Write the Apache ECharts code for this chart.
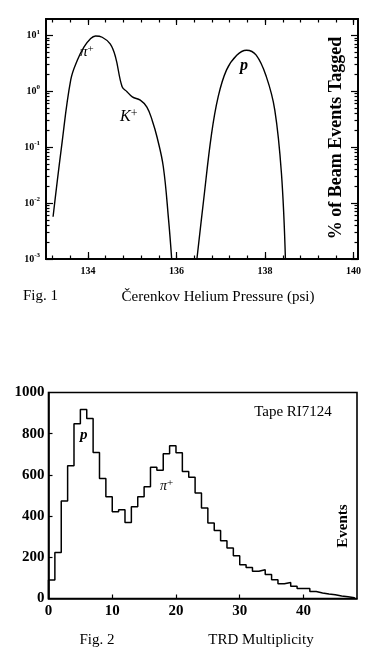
<!DOCTYPE html>
<html>
<head>
<meta charset="utf-8">
<script src="https://cdn.jsdelivr.net/npm/echarts@6/dist/echarts.min.js"></script>
<style>
  html, body { margin: 0; padding: 0; background: #fff; }
  #chart { width: 390px; height: 664px; }
</style>
</head>
<body>
<div id="chart"></div>
<script>
// Fig. 1 - Cerenkov pressure scan (% of beam events tagged, log scale)
const piKPressure = [133.21, 133.40, 133.61, 133.76, 133.91, 134.05, 134.17, 134.32, 134.50, 134.62, 134.77, 134.88, 135.00, 135.18, 135.33, 135.45, 135.56, 135.70, 135.82, 135.89]
const piKPercent = [0.0057, 0.10, 1.6, 3.6, 6.2, 8.6, 9.7, 9.2, 7.0, 4.1, 1.2, 0.98, 0.79, 0.69, 0.52, 0.30, 0.15, 0.045, 0.005, 0.001]
const protonPressure = [136.46, 136.61, 136.79, 136.94, 137.13, 137.36, 137.58, 137.80, 138.03, 138.22, 138.37, 138.46]
const protonPercent = [0.001, 0.011, 0.17, 0.79, 2.4, 4.4, 5.4, 4.4, 1.8, 0.46, 0.034, 0.001]
const pressureLabels = [134, 136, 138, 140]
const decadeExponents = [-3, -2, -1, 0, 1]

// Fig. 2 - TRD multiplicity histogram (bins of width 1 starting at 0)
const trdEvents = [90, 223, 473, 645, 848, 917, 874, 709, 583, 494,
  421, 431, 369, 445, 494, 542, 637, 622, 703, 741,
  708, 616, 589, 512, 439, 367, 330, 280, 245, 208,
  164, 151, 132, 140, 116, 91, 72, 78, 59, 48,
  48, 34, 27, 22, 18, 12, 8, 4]
const multiplicityLabels = [0, 10, 20, 30, 40]
const eventsLabels = [0, 200, 400, 600, 800, 1000]

const logMax = 1.29
const serif = '"Liberation Serif", "DejaVu Serif", serif'

// minor tick positions
let pressureMinor = []
for (let p = 133.2; p < 140.05; p += 0.4) pressureMinor.push(+p.toFixed(2))
let logMinor = []
decadeExponents.forEach(n => {
  for (let k = 2; k <= 9; k++) {
    const v = n + Math.log10(k)
    if (v < logMax) logMinor.push(v)
  }
})

const piKData = piKPressure.map((p, i) => [p, Math.log10(piKPercent[i])])
const protonData = protonPressure.map((p, i) => [p, Math.log10(protonPercent[i])])

let trdData = [[0, 0]]
trdEvents.forEach((v, i) => trdData.push([i, v]))
trdData.push([trdEvents.length, 0])

const chart = echarts.init(document.getElementById('chart'))

function tickAxis(gridIndex, position, ticks, len, extra) {
  return Object.assign({
    gridIndex: gridIndex,
    position: position,
    type: 'value',
    axisLine: { show: true, onZero: false, lineStyle: { color: '#000', width: 1.6 } },
    splitLine: { show: false },
    axisLabel: { show: false },
    axisTick: { show: true, inside: true, length: len, customValues: ticks, lineStyle: { color: '#000', width: 1.2 } }
  }, extra || {})
}

const xRange1 = { min: 133.05, max: 140.1 }
const yRange1 = { min: -3, max: logMax }

const option = {
  animation: false,
  grid: [
    { left: 46, top: 19, width: 312, height: 240, show: true, borderColor: '#000', borderWidth: 1.6, backgroundColor: 'transparent' },
    { left: 48.5, top: 392.5, width: 308.5, height: 206, show: true, borderColor: '#000', borderWidth: 1.6, backgroundColor: 'transparent' }
  ],
  xAxis: [
    tickAxis(0, 'bottom', pressureLabels, 7, Object.assign({
      axisLabel: {
        show: true, customValues: pressureLabels, margin: 7,
        fontFamily: serif, fontWeight: 'bold', fontSize: 10, color: '#000'
      }
    }, xRange1)),
    tickAxis(0, 'bottom', pressureMinor, 3.5, xRange1),
    tickAxis(0, 'top', pressureLabels, 6, xRange1),
    tickAxis(0, 'top', pressureMinor, 3.5, xRange1),
    tickAxis(1, 'bottom', [10, 20, 30, 40], 4, {
      min: 0, max: 48.4,
      axisLabel: {
        show: true, customValues: multiplicityLabels, margin: 5,
        fontFamily: serif, fontWeight: 'bold', fontSize: 15, color: '#000'
      }
    })
  ],
  yAxis: [
    tickAxis(0, 'left', decadeExponents, 7, Object.assign({
      interval: 1,
      axisLabel: {
        show: true, customValues: decadeExponents, margin: 6,
        formatter: v => '{b|10}{s|' + v + '}',
        rich: {
          b: { fontFamily: serif, fontWeight: 'bold', fontSize: 10, color: '#000', lineHeight: 14 },
          s: { fontFamily: serif, fontWeight: 'bold', fontSize: 7, color: '#000', lineHeight: 8, verticalAlign: 'top' }
        }
      }
    }, yRange1)),
    tickAxis(0, 'left', logMinor, 3.5, yRange1),
    tickAxis(0, 'right', decadeExponents, 7, yRange1),
    tickAxis(0, 'right', logMinor, 3.5, yRange1),
    tickAxis(1, 'left', [200, 400, 600, 800], 4, {
      min: 0, max: 1000,
      axisLabel: {
        show: true, customValues: eventsLabels, margin: 4,
        formatter: v => String(v),
        fontFamily: serif, fontWeight: 'bold', fontSize: 15, color: '#000'
      }
    })
  ],
  series: [
    {
      type: 'line', xAxisIndex: 0, yAxisIndex: 0, data: piKData,
      smooth: 0.4, symbol: 'none',
      lineStyle: { color: '#000', width: 1.4 }
    },
    {
      type: 'line', xAxisIndex: 0, yAxisIndex: 0, data: protonData,
      smooth: 0.4, symbol: 'none',
      lineStyle: { color: '#000', width: 1.4 }
    },
    {
      type: 'line', xAxisIndex: 4, yAxisIndex: 4, data: trdData,
      step: 'end', symbol: 'none',
      lineStyle: { color: '#000', width: 1.5 }
    }
  ],
  graphic: [
    // Fig. 1 annotations
    { type: 'text', x: 80, y: 44, style: { text: '{a|π}{s|+}', rich: {
      a: { fontFamily: serif, fontStyle: 'italic', fontSize: 15, lineHeight: 16 },
      s: { fontFamily: serif, fontSize: 11, lineHeight: 10, verticalAlign: 'top' } } } },
    { type: 'text', x: 120, y: 108, style: { text: '{a|K}{s|+}', rich: {
      a: { fontFamily: serif, fontStyle: 'italic', fontSize: 16, lineHeight: 18 },
      s: { fontFamily: serif, fontSize: 12, lineHeight: 10, verticalAlign: 'top' } } } },
    { type: 'text', x: 240, y: 58, style: { text: 'p', font: 'italic bold 16px ' + serif, fill: '#000' } },
    { type: 'text', x: 336, y: 138, rotation: Math.PI / 2,
      style: { text: '% of Beam Events Tagged', font: 'bold 18px ' + serif, fill: '#000', align: 'center', verticalAlign: 'middle' } },
    { type: 'text', x: 23, y: 289, style: { text: 'Fig. 1', font: '15px ' + serif, fill: '#000' } },
    { type: 'text', x: 218, y: 297, style: { text: 'Čerenkov Helium Pressure (psi)', font: '15px ' + serif, fill: '#000', align: 'center', verticalAlign: 'middle' } },
    // Fig. 2 annotations
    { type: 'text', x: 293, y: 412, style: { text: 'Tape RI7124', font: '15px ' + serif, fill: '#000', align: 'center', verticalAlign: 'middle' } },
    { type: 'text', x: 80, y: 428, style: { text: 'p', font: 'italic bold 15px ' + serif, fill: '#000' } },
    { type: 'text', x: 160, y: 478, style: { text: '{a|π}{s|+}', rich: {
      a: { fontFamily: serif, fontStyle: 'italic', fontSize: 14, lineHeight: 16 },
      s: { fontFamily: serif, fontSize: 11, lineHeight: 10, verticalAlign: 'top' } } } },
    { type: 'text', x: 343, y: 526, rotation: Math.PI / 2,
      style: { text: 'Events', font: 'bold 15px ' + serif, fill: '#000', align: 'center', verticalAlign: 'middle' } },
    { type: 'text', x: 97, y: 640, style: { text: 'Fig. 2', font: '15px ' + serif, fill: '#000', align: 'center', verticalAlign: 'middle' } },
    { type: 'text', x: 261, y: 640, style: { text: 'TRD Multiplicity', font: '15px ' + serif, fill: '#000', align: 'center', verticalAlign: 'middle' } }
  ]
}

chart.setOption(option)
window.addEventListener('resize', () => {
  chart.resize()
})
</script>
</body>
</html>
